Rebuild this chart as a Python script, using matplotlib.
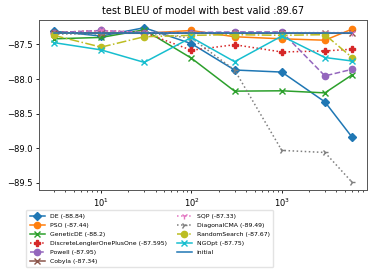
#%%
# imports
import matplotlib
matplotlib.use("Agg")
import matplotlib.pyplot as plt

# %%
# data
budgets = [3, 10, 30, 100, 300, 1000, 3000, 6000]

de = [-87.31, -87.38, -87.26, -87.49, -87.87, -87.90, -88.33, -88.84]
pso = [-87.34, -87.33, -87.34, -87.30, -87.39, -87.42, -87.44, -87.28]
genetic_de = [-87.42, -87.40, -87.29, -87.70, -88.175, -88.17, -88.20, -87.94]
lengler = [-87.33, -87.30, -87.33, -87.585, -87.505, -87.61, -87.595, -87.57]
powell = [-87.33, -87.30, -87.33, -87.33, -87.32, -87.32, -87.955, -87.86]
cobyla = [-87.33, -87.34, -87.34, -87.34, -87.34, -87.34, -87.34, -87.34]
sqp = [-87.35, -87.30, -87.33, -87.33, -87.33, -87.33, -87.33, -87.33]
diag_cma = [-87.35, -87.35, -87.33, -87.41, -87.87, -89.03, -89.06, -89.49]
random_search = [-87.37, -87.54, -87.39, -87.37, -87.36, -87.37, -87.36, -87.69]
ngopt = [-87.475, -87.58, -87.76, -87.40, -87.75, -87.38, -87.69, -87.74]
initial = [-87.33] * len(budgets)

labels = ["DE (-88.84)", "PSO (-87.44)", "GeneticDE (-88.2)",
          "DiscreteLenglerOnePlusOne (-87.595)", "Powell (-87.95)",
          "Cobyla (-87.34)", "SQP (-87.33)", "DiagonalCMA (-89.49)",
          "RandomSearch (-87.67)", "NGOpt (-87.75)", "initial"]
title = "test BLEU of model with best valid :89.67"

# %%
# styles per curve: (color, linestyle, marker)
styles = [
    ("#1f77b4", "-", "D"),
    ("#ff7f0e", "-", "o"),
    ("#2ca02c", "-", "x"),
    ("#d62728", ":", "P"),
    ("#9467bd", "--", "o"),
    ("#8c564b", "-", "x"),
    ("#e377c2", ":", "1"),
    ("#7f7f7f", ":", "4"),
    ("#bcbd22", "-.", "o"),
    ("#17becf", "-", "x"),
    ("#1f77b4", "-", None),
]
series = [de, pso, genetic_de, lengler, powell, cobyla, sqp, diag_cma,
          random_search, ngopt, initial]

fig = plt.figure(figsize=(3.74, 2.8), dpi=100)
ax = fig.add_axes([39 / 374, 1 - 190 / 280, 328 / 374, 170 / 280])

for vals, lab, (col, ls, mk) in zip(series, labels, styles):
    ax.plot(budgets, vals, color=col, linestyle=ls, marker=mk,
            markersize=4.5, linewidth=1.1, label=lab)

ax.set_xscale("log")
ax.set_yticks([-87.5, -88.0, -88.5, -89.0, -89.5])
ax.tick_params(labelsize=6, length=2.5, width=0.6, pad=2)
ax.tick_params(which="minor", length=1.5, width=0.5)
for sp in ax.spines.values():
    sp.set_linewidth(0.7)
    sp.set_color("#555555")
ax.set_title(title, fontsize=7, pad=4)

fig.legend(loc="upper left", bbox_to_anchor=(23 / 374, 1 - 207 / 280),
           ncol=2, fontsize=4.4, frameon=True, handlelength=2.5,
           columnspacing=1.6, labelspacing=0.6, borderpad=0.6,
           framealpha=0.8, edgecolor="#dddddd", fancybox=True)

fig.savefig("out.png", dpi=100)
